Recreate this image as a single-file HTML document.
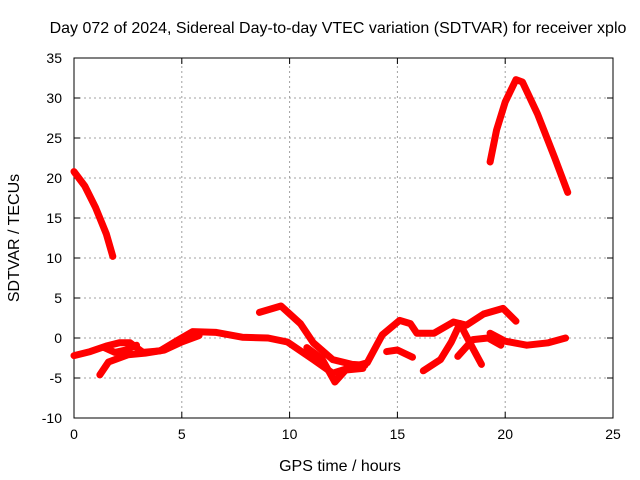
<!DOCTYPE html>
<html><head><meta charset="utf-8"><style>
body{margin:0;background:#fff}
svg{display:block;font-family:"Liberation Sans",sans-serif}
</style></head><body>
<svg width="640" height="480">
<g id="grid"></g><g id="axes"></g><g id="series"></g>
<text x="338" y="33" font-size="16" text-anchor="middle">Day 072 of 2024, Sidereal Day-to-day VTEC variation (SDTVAR) for receiver xplo</text>
<text x="340" y="471" font-size="16" text-anchor="middle">GPS time / hours</text>
<text x="19" y="238" font-size="16" text-anchor="middle" transform="rotate(-90 19 238)">SDTVAR / TECUs</text>
</svg>
<script>
const xTicks=[0,5,10,15,20,25];
const yTicks=[-10,-5,0,5,10,15,20,25,30,35];
const trackArcEarly=[[0,20.8],[0.5,19],[1,16.3],[1.5,13],[1.8,10.2]];
const trackArcLate=[[19.3,22],[19.6,26],[20,29.5],[20.5,32.3],[20.8,32],[21.5,28],[22.3,22.5],[22.9,18.2]];
const trackMain=[[0,-2.2],[0.75,-1.7],[1.5,-1],[2.1,-0.6],[2.6,-0.6],[3.2,-1.8],[4,-1.6],[4.8,-0.3],[5.5,0.8],[6.6,0.7],[7.8,0.1],[9,0],[9.9,-0.5],[11.1,-2.7],[12,-4.4],[12.7,-3.8],[13.6,-3.1],[14.3,0.4],[15.1,2.2],[15.6,1.8],[15.9,0.6],[16.7,0.6],[17.6,2],[18.2,1.6],[19,3],[19.9,3.7],[20.5,2.1]];
const trackLow=[[1.2,-4.6],[1.6,-3],[2.5,-2.1],[3.3,-1.9],[4.2,-1.5],[5,-0.5],[5.8,0.3]];
const trackLoop=[[1.4,-1.2],[1.9,-1.8],[2.4,-1.5],[2.9,-0.9]];
const trackPeak=[[8.6,3.2],[9.6,4],[10.5,1.8],[11.1,-0.6],[12,-2.7],[12.9,-3.3],[13.5,-3.4]];
const trackDrop=[[10.8,-1.2],[11.5,-2.6],[12.1,-5.5],[12.6,-4],[13.4,-3.8]];
const trackSide=[[14.5,-1.7],[15,-1.5],[15.7,-2.4]];
const trackRise=[[16.2,-4.1],[17,-2.7],[17.5,-0.5],[17.9,1.8]];
const trackCrossA=[[17.9,1.8],[18.4,-0.8],[18.9,-3.3]];
const trackCrossB=[[17.8,-2.3],[18.5,-0.2],[19.2,0],[19.8,-0.9]];
const trackTail=[[19.3,0.6],[20,-0.4],[21,-0.9],[22,-0.6],[22.8,0]];
const tracks=[trackArcEarly,trackArcLate,trackMain,trackLow,trackLoop,trackPeak,trackDrop,trackSide,trackRise,trackCrossA,trackCrossB,trackTail];
const X0=74,X1=613,Y0=418,Y1=58;
const sx=v=>X0+(v-0)/25*(X1-X0);
const sy=v=>Y0-(v+10)/45*(Y0-Y1);
const NS="http://www.w3.org/2000/svg";
function mk(t,a,p){const e=document.createElementNS(NS,t);for(const k in a)e.setAttribute(k,a[k]);p.appendChild(e);return e;}
const grid=document.getElementById('grid'),axes=document.getElementById('axes'),ser=document.getElementById('series');
xTicks.forEach(v=>{
 if(v>0&&v<25){const l=mk('line',{x1:sx(v),x2:sx(v),y1:Y0,y2:Y1,stroke:'#a0a0a0','stroke-dasharray':'2,3'},grid);
 
 }
 mk('line',{x1:sx(v),x2:sx(v),y1:Y0,y2:Y0-6,stroke:'#000'},axes);
 mk('line',{x1:sx(v),x2:sx(v),y1:Y1,y2:Y1+6,stroke:'#000'},axes);
 const t=mk('text',{x:sx(v),y:Y0+21,'font-size':14,'text-anchor':'middle'},axes);t.textContent=v;
 
 
});
yTicks.forEach(v=>{
 if(v>-10&&v<35){const l=mk('line',{x1:X0,x2:X1,y1:sy(v),y2:sy(v),stroke:'#a0a0a0','stroke-dasharray':'2,3'},grid);
 
 }
 mk('line',{x1:X0,x2:X0+6,y1:sy(v),y2:sy(v),stroke:'#000'},axes);
 mk('line',{x1:X1,x2:X1-6,y1:sy(v),y2:sy(v),stroke:'#000'},axes);
 const t=mk('text',{x:X0-12,y:sy(v)+5,'font-size':14,'text-anchor':'end'},axes);t.textContent=v;
 
 
});
const fr=mk('rect',{x:X0,y:Y1,width:X1-X0,height:Y0-Y1,fill:'none',stroke:'#000'},axes);


tracks.forEach(tr=>{
 const p=mk('polyline',{points:tr.map(d=>sx(d[0])+','+sy(d[1])).join(' '),fill:'none',stroke:'#ff0000','stroke-width':7,'stroke-linejoin':'round','stroke-linecap':'round'},ser);
 
 
});
</script>
</body></html>
